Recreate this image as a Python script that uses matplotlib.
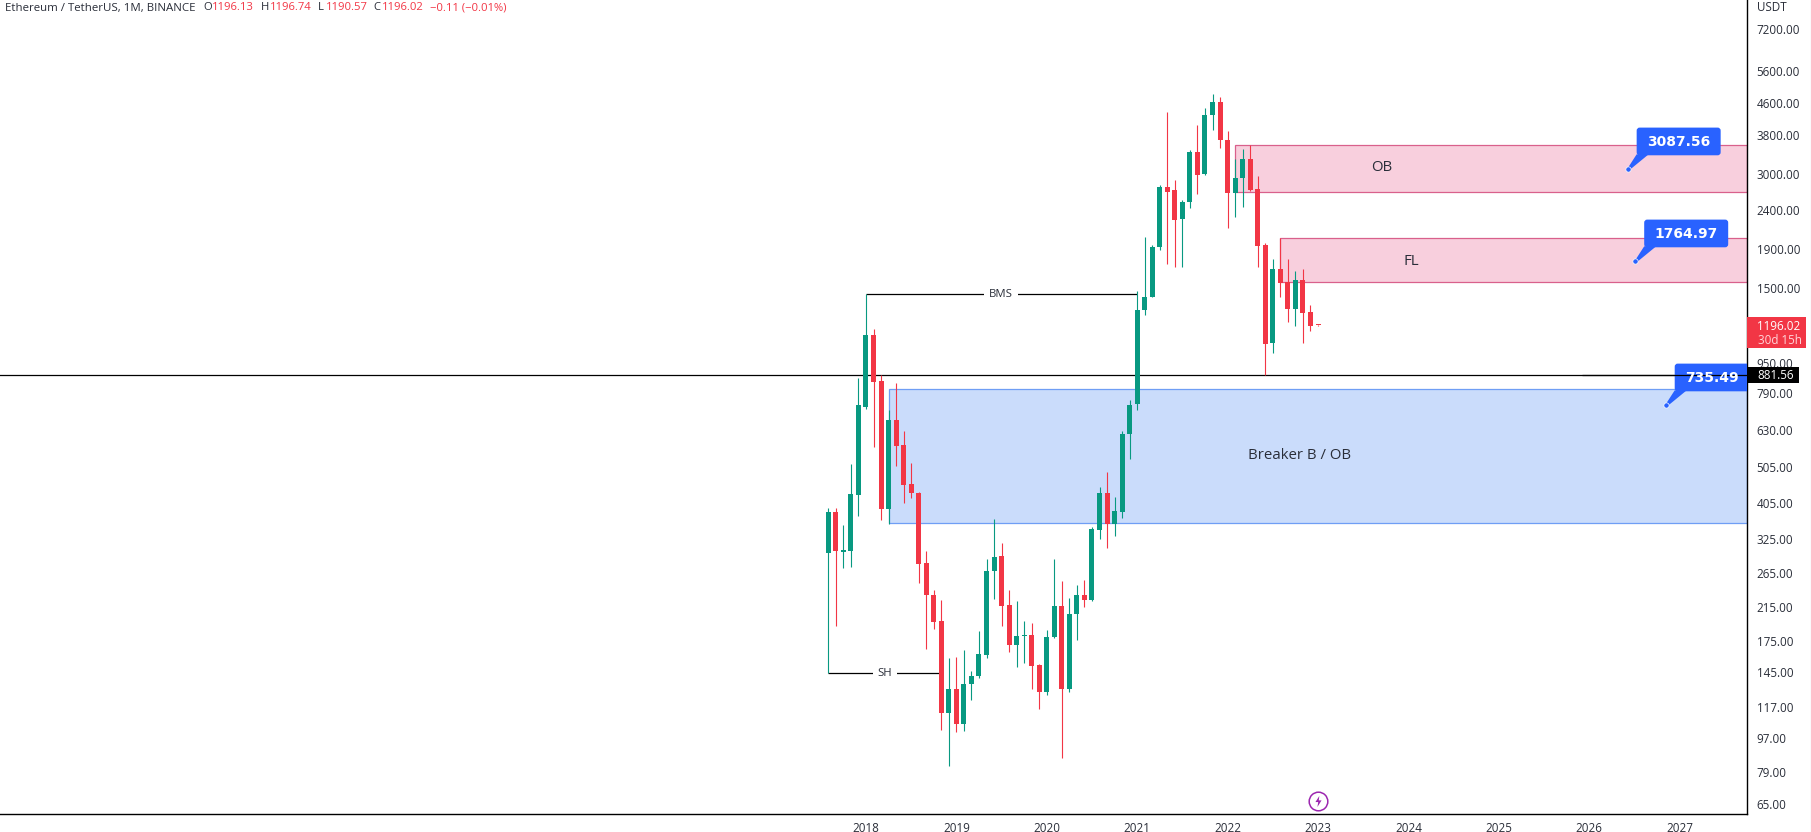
import matplotlib
matplotlib.use("Agg")
import matplotlib.pyplot as plt
from matplotlib.patches import FancyBboxPatch, Polygon, Rectangle
from matplotlib.path import Path
from matplotlib.transforms import IdentityTransform

plt.rcParams['font.family'] = ['Open Sans', 'DejaVu Sans']

# monthly ETHUSDT candles, Aug 2017 to Jan 2023
opens = [299, 383, 301, 303, 425, 726, 1124, 850, 390, 670, 577, 455, 431, 282, 232, 198, 113, 131, 105.6, 135,
         141.4, 161, 268, 293, 218, 171, 180, 182, 151, 128, 179, 216, 131, 206, 231, 225, 344, 431, 357, 383,
         616, 737, 1309, 1416, 1919, 2772, 2706, 2269, 2530, 3419, 3000, 4290, 4632, 3680, 2665, 2919, 3277, 2730, 1942, 1068,
         1679, 1553, 1317, 1570, 1295, 1196.13]
highs = [393, 393, 354, 512, 865, 1439, 1166, 882, 713, 840, 627, 516, 433, 302, 238, 225, 158, 159, 165.6, 145.7,
         186, 288, 367, 317, 238, 223, 197.6, 195, 152, 187, 288, 252, 227, 246, 253, 350, 446, 489, 420, 626,
         757, 1468, 2040, 1940, 2800, 4359, 2884, 2550, 3466, 4028, 4468, 4865, 4778, 3885, 3277, 3483, 3568, 2954, 1966, 1784,
         2027, 1784, 1659, 1679, 1349, 1196.74]
lows = [144, 192, 272, 275, 374, 717, 569, 365, 357, 507, 405, 417, 249, 167, 188, 102, 82, 100.5, 101, 122,
        140, 158, 226, 192, 164, 149, 153, 131, 116, 126, 178, 86, 128, 176, 215, 223, 325, 308, 331, 369,
        529, 713, 1270, 1416, 1890, 1732, 1700, 1700, 2433, 2649, 2971, 3908, 3504, 2153, 2303, 2447, 2700, 1700, 881.56, 1008,
        1416, 1217, 1187, 1071, 1152, 1190.57]
closes = [383, 303, 305, 428, 734, 1124, 845, 390, 670, 574, 452, 430, 280, 231, 197, 113, 131, 105.6, 135, 141.4,
          161.6, 268, 292, 216, 171, 180, 182, 150, 128, 179, 216, 131, 206, 231, 225, 345, 431, 357, 386, 616,
          734, 1309, 1416, 1919, 2765, 2682, 2262, 2522, 3419, 2971, 4281, 4632, 3676, 2665, 2919, 3277, 2713, 1931, 1064, 1679,
          1542, 1317, 1570, 1285, 1187, 1196.02]

year_pos = [5, 17, 29, 41, 53, 65, 77, 89, 101, 113]
year_labels = ['2018', '2019', '2020', '2021', '2022', '2023', '2024', '2025', '2026', '2027']
price_ticks = [7200, 5600, 4600, 3800, 3000, 2400, 1900, 1500, 950, 790, 630, 505, 405, 325, 265, 215, 175, 145, 117, 97, 79, 65]

# zones: left candle, bottom price, top price
ob_zone = (54, 2686, 3561)
fl_zone = (60, 1554, 2027)
breaker_zone = (8, 358, 811)

last_price = 1196.02
level_price = 881.56

GREEN = '#089981'
RED = '#f23645'
BLUE = '#2962ff'
DARK = '#2a2e39'
W, H = 1811, 832
AX_R, AX_B = 1747, 814

fig = plt.figure(figsize=(W / 100, H / 100), dpi=100, facecolor='white')
ax = fig.add_axes([0, 1 - AX_B / H, AX_R / W, AX_B / H])
ax.set_yscale('log')
ax.set_xlim(-109.94, 121.94)
ax.set_ylim(61.15, 8614)
x_right = 121.94

for side in ['top', 'left']:
    ax.spines[side].set_visible(False)
for side in ['right', 'bottom']:
    ax.spines[side].set_linewidth(1.0)
    ax.spines[side].set_color('black')

# axis ticks
ax.yaxis.tick_right()
ax.set_yticks(price_ticks)
ax.set_yticklabels([f'{p}.00' for p in price_ticks], fontsize=8.4, color=DARK)
ax.minorticks_off()
ax.tick_params(axis='y', length=0, pad=7)
ax.set_xticks(year_pos)
ax.set_xticklabels(year_labels, fontsize=8.4, color=DARK)
ax.tick_params(axis='x', length=0, pad=6)

# zones
for left, bottom, top in [ob_zone, fl_zone]:
    ax.add_patch(Rectangle((left, bottom), x_right - left, top - bottom, fc='#f8cfdd', ec='#d9608c', lw=0.9, zorder=1))
left, bottom, top = breaker_zone
ax.add_patch(Rectangle((left, bottom), x_right - left, top - bottom, fc='#cadcfb', ec='#6f9ef5', lw=0.9, zorder=1))

# level line and structure lines
ax.axhline(level_price, color='black', lw=0.9, zorder=2)
ax.hlines(1439, 5, 41, color='black', lw=0.9, zorder=2).set_snap(True)
ax.hlines(144, 0, 15, color='black', lw=0.9, zorder=2).set_snap(True)

# candles
idx = list(range(len(opens)))
colors = [GREEN if c >= o else RED for o, c in zip(opens, closes)]
ax.vlines(idx, lows, highs, colors=colors, lw=0.8, zorder=3).set_snap(True)
bar_bottom = [min(o, c) for o, c in zip(opens, closes)]
bar_height = [max(abs(c - o), 0.006 * c) for o, c in zip(opens, closes)]
ax.bar(idx, bar_height, bottom=bar_bottom, width=5 / 7.534, color=colors, lw=0, zorder=4)

# zone and line labels
ax.text(73.4, 3121, 'OB', fontsize=10.8, color=DARK, ha='center', va='center', zorder=5)
ax.text(77.4, 1762, 'FL', fontsize=10.8, color=DARK, ha='center', va='center', zorder=5)
ax.text(62.6, 540, 'Breaker B / OB', fontsize=10.8, color=DARK, ha='center', va='center', zorder=5)
for x, y, label in [(22.9, 1439, 'BMS'), (7.5, 144, 'SH')]:
    ax.text(x, y, label, fontsize=8.2, color=DARK, ha='center', va='center', zorder=3,
            bbox=dict(fc='white', ec='none', pad=3.5))


def callout(x, price, label):
    # anchored on a price, the box sits up and to the right of the dot
    fig.canvas.draw()
    ax_px, ay_px = ax.transData.transform((x, price))
    width = 84 if len(label) == 7 else 75
    left, bottom = ax_px + 9, ay_px + 13.5
    tr = IdentityTransform()
    ax.add_patch(Polygon([(ax_px - 1, ay_px - 1), (ax_px + 1.5, ay_px - 1.5), (left + 12, bottom + 1), (left, bottom + 1)],
                         fc=BLUE, ec='none', transform=tr, zorder=6))
    ax.add_patch(FancyBboxPatch((left + 3, bottom + 3), width - 6, 27.7 - 6, boxstyle='round,pad=3,rounding_size=3',
                                fc=BLUE, ec='none', transform=tr, zorder=6))
    ax.plot([x], [price], 'o', ms=3.8, mfc=BLUE, mec='white', mew=0.5, zorder=7)
    ax.text(left + width / 2, bottom + 13, label, transform=tr, color='white', fontsize=10, fontweight='bold',
            family='DejaVu Sans', ha='center', va='center', zorder=9)


callout(106.1, 3087.56, '3087.56')
callout(107.1, 1764.97, '1764.97')
callout(111.15, 735.49, '735.49')
ax.hlines(level_price, 100, x_right, color='black', lw=0.9, zorder=8).set_snap(True)

# replay icon at the last candle
bolt = Path([(0.15, 1), (-0.55, -0.1), (-0.05, -0.1), (-0.2, -1), (0.55, 0.2), (0.05, 0.2), (0.15, 1)], closed=True)
ax.plot([65], [66.1], 'o', ms=13.4, mfc='none', mec='#9c27b0', mew=1.1, zorder=5, clip_on=False)
ax.plot([65], [66.1], marker=bolt, ms=8, mfc='#9c27b0', mec='none', zorder=5)


def flag(y0, y1, x1, color):
    fig.add_artist(Rectangle((AX_R / W, 1 - y1 / H), (x1 - AX_R) / W, (y1 - y0) / H, fc=color, ec='none',
                             transform=fig.transFigure, zorder=5))


def px_text(x, y, s, **kw):
    kw.setdefault('fontsize', 8.4)
    kw.setdefault('color', DARK)
    kw.setdefault('va', 'center')
    fig.text(x / W, 1 - y / H, s, zorder=6, **kw)


# price flags
flag(317, 347.7, 1806, RED)
px_text(1757.5, 326.5, f'{last_price:.2f}', color='white')
px_text(1757.5, 340.5, '30d 15h', color='#ffd4d8')
flag(367, 383.3, 1799, 'black')
px_text(1757.5, 376, f'{level_price:.2f}', color='white')
px_text(1757.5, 7.5, 'USDT')

# gray frame line on the right
fig.add_artist(plt.Line2D([1810.5 / W, 1810.5 / W], [0, 1], color='#b2b5be', lw=0.8))

# header
px_text(5, 8, 'Ethereum / TetherUS, 1M, BINANCE', fontsize=8.25)
for x, s, c in [(203, 'O', DARK), (212, '1196.13', RED), (260.5, 'H', DARK), (269.5, '1196.74', RED),
                (318, 'L', DARK), (325.5, '1190.57', RED), (373, 'C', DARK), (382, '1196.02', RED),
                (430, '\u22120.11 (\u22120.01%)', RED)]:
    px_text(x, 8, s, color=c, fontsize=8.1)

fig.savefig('out.png', dpi=100)
